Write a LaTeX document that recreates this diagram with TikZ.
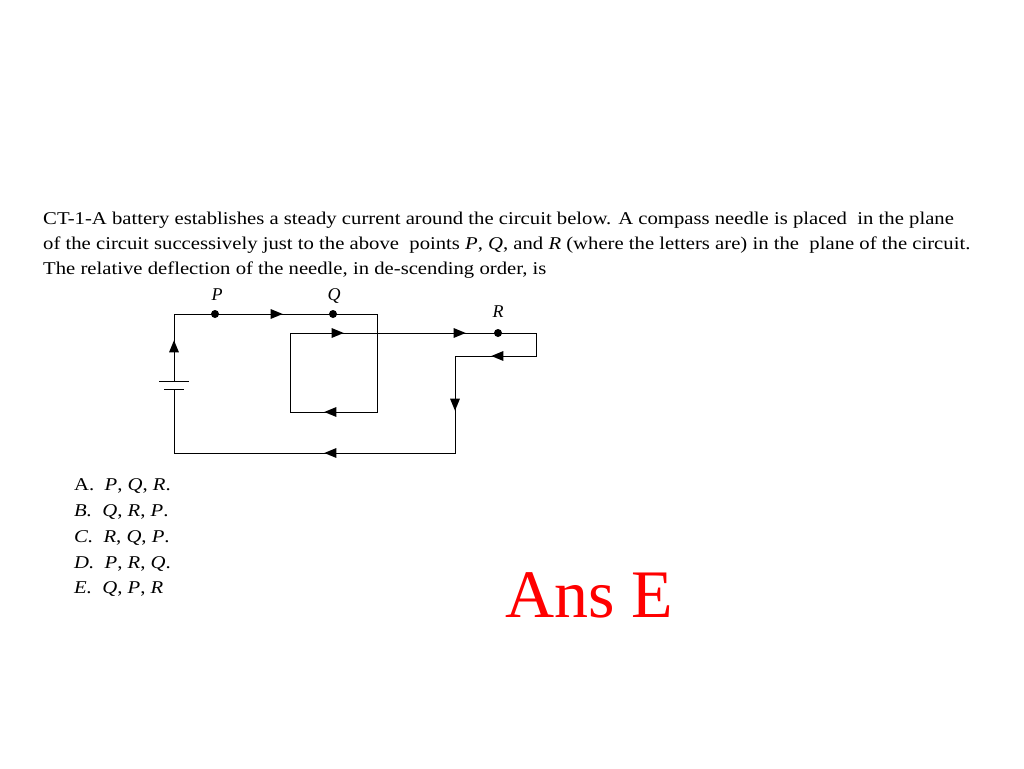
\documentclass[tikz,border=0pt]{standalone}
\usepackage{fontspec}
\setmainfont{Liberation Serif}
\newfontfamily\wideserif[FakeStretch=1.15]{Liberation Serif}
\usetikzlibrary{shapes.geometric}
\begin{document}
\begin{tikzpicture}[x=1pt,y=-1pt,
  wire/.style={line width=1pt},
  ah/.style={isosceles triangle,fill=black,inner sep=0pt,minimum width=9pt,minimum height=12pt,isosceles triangle apex angle=45},
  dotn/.style={circle,fill=black,inner sep=0pt,minimum size=8pt},
  lab/.style={font=\fontsize{18}{18}\selectfont\itshape},
  txt/.style={anchor=base west,inner sep=0pt,font=\wideserif\fontsize{18}{18}\selectfont}]
\useasboundingbox (0,0) rectangle (1024,768);
% text
\node[txt] (t1) at (43,224) {CT-1-A battery establishes a steady current around the circuit below. A compass needle is placed\ \ in the plane};
\node[txt] (t2) at (43,249) {of the circuit successively just to the above\ \ points \textit{P}, \textit{Q}, and \textit{R} (where the letters are) in the\ \ plane of the circuit.};
\node[txt] (t3) at (43,274) {The relative deflection of the needle, in de-scending order, is};
% coordinates
\coordinate (a1) at (174,314);
\coordinate (a2) at (377,314);
\coordinate (a3) at (377,412);
\coordinate (a4) at (290,412);
\coordinate (a5) at (290,333);
\coordinate (a6) at (536,333);
\coordinate (a7) at (536,356);
\coordinate (a8) at (455,356);
\coordinate (a9) at (455,453);
\coordinate (a10) at (174,453);
\coordinate (bt) at (174,381);
\coordinate (bb) at (174,389);
\draw[wire] (bt) -- (a1) -- (a2) -- (a3) -- (a4) -- (a5) -- (a6) -- (a7) -- (a8) -- (a9) -- (a10) -- (bb);
\draw[wire] (159,381) -- (189,381);
\draw[wire] (164,389) -- (184,389);
% dots
\node[dotn] (P) at (215,314) {};
\node[dotn] (Q) at (333,314) {};
\node[dotn] (R) at (498,333) {};
\node[lab] (lP) at (217,295) {P};
\node[lab] (lQ) at (334,296) {Q};
\node[lab] (lR) at (498,312) {R};
% arrows
\node[ah] at (274,314) {};
\node[ah] at (335,333) {};
\node[ah] at (457,333) {};
\node[ah,rotate=180] at (333,412) {};
\node[ah,rotate=180] at (500,356) {};
\node[ah,rotate=-90] at (455,402) {};
\node[ah,rotate=180] at (333,453) {};
\node[ah,rotate=90] at (174,349) {};
% answers
\node[txt] (A) at (74,490) {A.\ \ \textit{P}, \textit{Q}, \textit{R}.};
\node[txt] (B) at (74,516) {\textit{B.}\ \ \textit{Q}, \textit{R}, \textit{P}.};
\node[txt] (C) at (74,542) {\textit{C.}\ \ \textit{R}, \textit{Q}, \textit{P}.};
\node[txt] (D) at (74,568) {\textit{D.}\ \ \textit{P}, \textit{R}, \textit{Q}.};
\node[txt] (E) at (74,593) {\textit{E.}\ \ \textit{Q}, \textit{P}, \textit{R}};
\node[anchor=base west,inner sep=0pt,text=red,font=\fontsize{68}{68}\selectfont] (ans) at (505,617) {Ans E};
\end{tikzpicture}
\end{document}
